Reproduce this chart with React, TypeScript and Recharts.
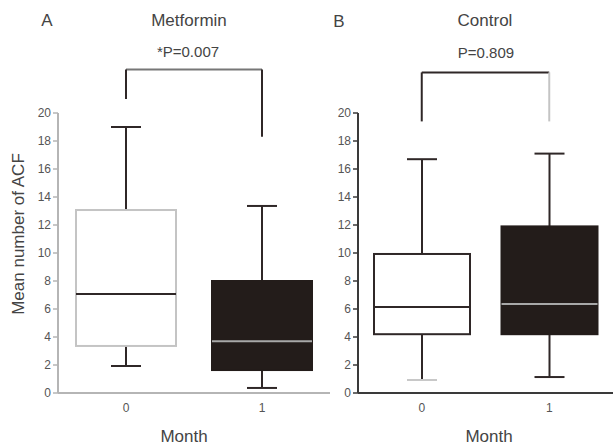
import { ComposedChart, Bar, XAxis, YAxis, ReferenceLine } from "recharts";

const months = ["0", "1"];
const yTicks = [0, 2, 4, 6, 8, 10, 12, 14, 16, 18, 20];

// Metformin group
const metMin = [1.93, 0.36];
const metQ1 = [3.36, 1.64];
const metMedian = [7.07, 3.7];
const metQ3 = [13.07, 8.0];
const metMax = [19.0, 13.36];

// Control group
const ctlMin = [0.93, 1.14];
const ctlQ1 = [4.2, 4.2];
const ctlMedian = [6.14, 6.36];
const ctlQ3 = [9.93, 11.9];
const ctlMax = [16.7, 17.1];

// bracket heights (y units) above the boxes
const metBracket = { top: 23.1, leftEnd: 21.0, rightEnd: 18.3 };
const ctlBracket = { top: 22.9, leftEnd: 19.4, rightEnd: 19.4 };

const DARK = "#2f2727";
const BLACK = "#231c1a";
const FONT = "'Liberation Sans', Arial, sans-serif";

type BoxStyle = {
  fill: string;
  outline: string;
  whisker: string;
  median: string;
  lowCap: string;
};

const metStyles: BoxStyle[] = [
  { fill: "#ffffff", outline: "#c4c4c4", whisker: DARK, median: DARK, lowCap: DARK },
  { fill: BLACK, outline: BLACK, whisker: DARK, median: "#a8a8a8", lowCap: DARK },
];
const ctlStyles: BoxStyle[] = [
  { fill: "#ffffff", outline: DARK, whisker: DARK, median: DARK, lowCap: "#c8c8c8" },
  { fill: BLACK, outline: BLACK, whisker: DARK, median: "#a8a8a8", lowCap: DARK },
];

function buildRows(min: number[], q1: number[], med: number[], q3: number[], max: number[]) {
  return months.map((m, i) => ({
    month: m,
    min: min[i],
    q1: q1[i],
    median: med[i],
    q3: q3[i],
    max: max[i],
    range: [min[i], max[i]],
  }));
}

function makeBoxShape(styles: BoxStyle[]) {
  return function BoxShape(props: any) {
    const { x, y, width, height, payload, index } = props;
    const s = styles[index] ?? styles[0];
    const top = Math.min(y, y + height);
    const bottom = Math.max(y, y + height);
    const span = payload.max - payload.min;
    const toY = (v: number) => bottom - ((bottom - top) * (v - payload.min)) / span;
    const cx = x + width / 2;
    const cap = 30;
    const yQ1 = toY(payload.q1);
    const yQ3 = toY(payload.q3);
    const yMed = toY(payload.median);
    const yMax = toY(payload.max);
    const yMin = toY(payload.min);
    return (
      <g>
        <line x1={cx} x2={cx} y1={yMax} y2={yQ3} stroke={s.whisker} strokeWidth={2} />
        <line x1={cx} x2={cx} y1={yQ1} y2={yMin} stroke={s.whisker} strokeWidth={2} />
        <line x1={cx - cap / 2} x2={cx + cap / 2} y1={yMax} y2={yMax} stroke={s.whisker} strokeWidth={2} />
        <line x1={cx - cap / 2} x2={cx + cap / 2} y1={yMin} y2={yMin} stroke={s.lowCap} strokeWidth={2} />
        <rect
          x={x + 1}
          y={yQ3}
          width={width - 2}
          height={yQ1 - yQ3}
          fill={s.fill}
          stroke={s.outline}
          strokeWidth={2}
        />
        <line x1={x + 1} x2={x + width - 1} y1={yMed} y2={yMed} stroke={s.median} strokeWidth={2} />
      </g>
    );
  };
}

type PanelProps = {
  rows: ReturnType<typeof buildRows>;
  styles: BoxStyle[];
  width: number;
  barSize: number;
  axisColor: string;
  bracket: { top: number; leftEnd: number; rightEnd: number };
  bracketColors: [string, string, string];
};

function Panel({ rows, styles, width, barSize, axisColor, bracket, bracketColors }: PanelProps) {
  const Shape = makeBoxShape(styles);
  const [topC, leftC, rightC] = bracketColors;
  return (
    <ComposedChart
      width={width}
      height={445}
      data={rows}
      margin={{ top: 113, right: 0, bottom: 22, left: 18 }}
    >
      <XAxis
        dataKey="month"
        height={30}
        tickLine={false}
        tickSize={8}
        axisLine={{ stroke: axisColor, strokeWidth: 2 }}
        tick={{ fill: "#555", fontSize: 12, fontFamily: FONT }}
      />
      <YAxis
        width={40}
        domain={[0, 20]}
        ticks={yTicks}
        interval={0}
        tickSize={5}
        tickMargin={2}
        axisLine={{ stroke: axisColor, strokeWidth: 2 }}
        tickLine={{ stroke: axisColor, strokeWidth: 1.5 }}
        tick={{ fill: "#555", fontSize: 12, fontFamily: FONT }}
      />
      <Bar dataKey="range" barSize={barSize} shape={Shape} isAnimationActive={false} />
      <ReferenceLine
        segment={[
          { x: "0", y: bracket.top },
          { x: "1", y: bracket.top },
        ]}
        ifOverflow="visible"
        stroke={topC}
        strokeWidth={2}
      />
      <ReferenceLine
        segment={[
          { x: "0", y: bracket.top },
          { x: "0", y: bracket.leftEnd },
        ]}
        ifOverflow="visible"
        stroke={leftC}
        strokeWidth={2}
      />
      <ReferenceLine
        segment={[
          { x: "1", y: bracket.top },
          { x: "1", y: bracket.rightEnd },
        ]}
        ifOverflow="visible"
        stroke={rightC}
        strokeWidth={2}
      />
    </ComposedChart>
  );
}

const textBase: React.CSSProperties = {
  position: "absolute",
  fontFamily: FONT,
  color: "#444",
  whiteSpace: "nowrap",
  transform: "translate(-50%, -50%)",
  lineHeight: 1,
};

function Label({ x, y, size, children }: { x: number; y: number; size: number; children: string }) {
  return <div style={{ ...textBase, left: x, top: y, fontSize: size }}>{children}</div>;
}

export default function App() {
  const metRows = buildRows(metMin, metQ1, metMedian, metQ3, metMax);
  const ctlRows = buildRows(ctlMin, ctlQ1, ctlMedian, ctlQ3, ctlMax);
  return (
    <div style={{ position: "absolute", left: 0, top: 0, width: 613, height: 445, background: "#fff" }}>
      <div style={{ position: "absolute", left: 0, top: 0 }}>
        <Panel
          rows={metRows}
          styles={metStyles}
          width={330}
          barSize={102}
          axisColor="#b5b5b5"
          bracket={metBracket}
          bracketColors={["#777", DARK, DARK]}
        />
      </div>
      <div style={{ position: "absolute", left: 300, top: 0 }}>
        <Panel
          rows={ctlRows}
          styles={ctlStyles}
          width={313}
          barSize={98}
          axisColor="#3a3a3a"
          bracket={ctlBracket}
          bracketColors={[DARK, DARK, "#c4c4c4"]}
        />
      </div>
      <Label x={47} y={20} size={17}>A</Label>
      <Label x={189} y={20} size={17}>Metformin</Label>
      <Label x={188} y={51} size={15}>*P=0.007</Label>
      <Label x={339} y={21} size={17}>B</Label>
      <Label x={485} y={20} size={17}>Control</Label>
      <Label x={486} y={52} size={15}>P=0.809</Label>
      <Label x={184} y={436} size={17}>Month</Label>
      <Label x={489} y={436} size={17}>Month</Label>
      <div
        style={{
          ...textBase,
          left: 18,
          top: 234,
          fontSize: 17,
          transform: "translate(-50%, -50%) rotate(-90deg)",
        }}
      >
        Mean number of ACF
      </div>
    </div>
  );
}
